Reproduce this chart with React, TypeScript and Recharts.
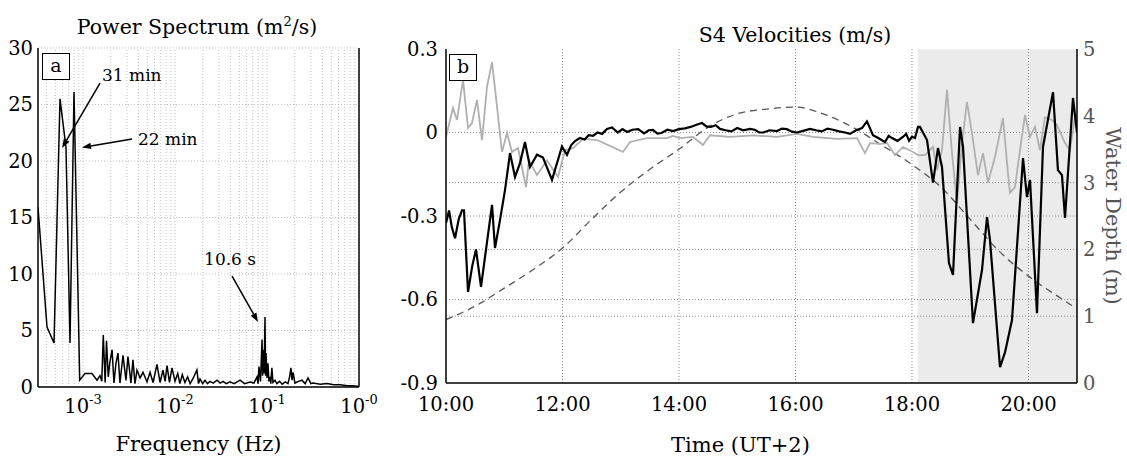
import {
  LineChart, Line, XAxis, YAxis, CartesianGrid, ReferenceLine, ReferenceArea, Label,
} from 'recharts';

const FONT = '"DejaVu Serif", serif';

// (a) power spectrum, frequency in Hz and power in m^2/s
const freqHz = [
  3.24e-4, 4.06e-4, 4.84e-4, 5.62e-4, 6.53e-4, 7.22e-4, 7.98e-4, 9.2e-4, 1.05e-3, 1.25e-3,
  1.42e-3, 1.53e-3, 1.6e-3, 1.66e-3, 1.74e-3, 1.8e-3, 1.88e-3, 1.96e-3, 2.07e-3, 2.17e-3,
  2.28e-3, 2.4e-3, 2.52e-3, 2.72e-3, 2.93e-3, 3.08e-3, 3.32e-3, 3.49e-3, 3.67e-3, 3.86e-3,
  4.17e-3, 4.49e-3, 4.96e-3, 5.35e-3, 5.77e-3, 6.37e-3, 6.87e-3, 7.41e-3, 7.8e-3, 8.19e-3,
  8.7e-3, 9.27e-3, 1.0e-2, 1.07e-2, 1.13e-2, 1.2e-2, 1.28e-2, 1.37e-2, 1.46e-2, 1.58e-2,
  1.73e-2, 1.8e-2, 1.87e-2, 2.0e-2, 2.12e-2, 2.25e-2, 2.4e-2, 2.6e-2, 2.86e-2, 3.1e-2,
  3.33e-2, 3.6e-2, 3.96e-2, 4.4e-2, 5.09e-2, 5.7e-2, 6.54e-2, 7.2e-2, 7.78e-2, 8.0e-2,
  8.18e-2, 8.5e-2, 8.83e-2, 8.95e-2, 9.05e-2, 9.3e-2, 9.51e-2, 9.65e-2, 9.75e-2, 0.1,
  0.1025, 0.105, 0.108, 0.11, 0.113, 0.116, 0.122, 0.128, 0.137, 0.146,
  0.158, 0.169, 0.176, 0.182, 0.187, 0.192, 0.201, 0.22, 0.24, 0.26,
  0.279, 0.3, 0.316, 0.38, 0.449, 0.53, 0.621, 0.75, 0.861, 1.0,
];
const power = [
  15.9, 5.3, 3.9, 25.5, 21.2, 3.9, 26.1, 0.6, 1.2, 1.2,
  0.6, 1.0, 0.5, 4.6, 0.4, 4.1, 0.9, 2.2, 3.3, 0.35,
  2.1, 3.0, 0.35, 2.8, 0.6, 2.7, 0.35, 2.4, 0.3, 1.5,
  0.8, 1.3, 0.45, 1.3, 0.4, 2.0, 0.4, 1.5, 0.5, 1.9,
  0.4, 1.7, 0.5, 1.2, 0.3, 1.1, 0.4, 0.9, 0.3, 0.8,
  1.5, 0.3, 0.7, 0.3, 0.6, 0.3, 0.5, 0.35, 0.6, 0.35,
  0.5, 0.3, 0.45, 0.3, 0.6, 0.3, 0.45, 0.35, 0.9, 0.3,
  1.8, 0.5, 4.2, 1.0, 3.3, 1.2, 6.2, 1.0, 3.0, 0.8,
  2.1, 0.5, 0.9, 0.3, 1.7, 0.4, 0.6, 0.3, 0.5, 0.25,
  0.45, 0.3, 0.9, 1.7, 0.6, 1.3, 0.35, 0.5, 0.6, 0.3,
  0.8, 0.3, 0.35, 0.25, 0.3, 0.2, 0.2, 0.12, 0.1, 0.05,
];
const freqTicks = [1e-3, 1e-2, 1e-1, 1];
const powerTicks = [0, 5, 10, 15, 20, 25, 30];

// (b) S4 velocities (m/s) and water depth (m), time in hours UT+2
const blackTime = [
  10.0, 10.03, 10.052, 10.1, 10.155, 10.22, 10.275, 10.309, 10.378, 10.45, 10.515, 10.601,
  10.7, 10.79, 10.841, 10.927, 11.013, 11.099, 11.185, 11.27, 11.356, 11.442, 11.562, 11.665,
  11.82, 11.991, 12.077, 12.15, 12.22, 12.3, 12.38, 12.45, 12.524, 12.6, 12.68, 12.764,
  12.85, 12.95, 13.03, 13.107, 13.2, 13.3, 13.4, 13.48, 13.554, 13.63, 13.7, 13.8,
  13.897, 14.0, 14.1, 14.2, 14.3, 14.395, 14.47, 14.55, 14.63, 14.704, 14.8, 14.9,
  15.0, 15.1, 15.219, 15.3, 15.38, 15.45, 15.55, 15.682, 15.77, 15.85, 15.94, 16.026,
  16.13, 16.249, 16.35, 16.45, 16.55, 16.644, 16.75, 16.85, 16.936, 17.04, 17.142, 17.227,
  17.28, 17.33, 17.42, 17.536, 17.6, 17.657, 17.75, 17.845, 17.9, 17.95, 18.0, 18.052,
  18.103, 18.137, 18.258, 18.361, 18.446, 18.515, 18.635, 18.704, 18.825, 18.876, 19.047, 19.202,
  19.288, 19.339, 19.511, 19.597, 19.717, 19.906, 19.974, 20.026, 20.146, 20.249, 20.421, 20.506,
  20.575, 20.627, 20.764, 20.833,
];
const blackVel = [
  -0.325, -0.3, -0.28, -0.34, -0.38, -0.31, -0.28, -0.28, -0.573, -0.48, -0.42, -0.555,
  -0.4, -0.26, -0.415, -0.315, -0.207, -0.074, -0.16, -0.11, -0.034, -0.124, -0.08, -0.09,
  -0.17, -0.05, -0.08, -0.045, -0.03, -0.02, -0.025, -0.01, -0.012, 0.0, -0.005, 0.013,
  0.018, 0.0, 0.012, 0.002, 0.01, 0.012, -0.003, 0.008, 0.009, -0.004, -0.002, 0.01,
  0.005, 0.012, 0.015, 0.02, 0.028, 0.034, 0.022, 0.02, 0.026, 0.013, 0.008, 0.004,
  0.016, 0.008, 0.013, 0.01, 0.0, 0.0, 0.008, 0.005, 0.014, 0.012, 0.003, 0.0,
  0.006, 0.013, 0.008, 0.004, 0.014, 0.01, 0.004, 0.0, -0.005, 0.008, 0.016, 0.04,
  0.015, -0.01, -0.02, -0.034, -0.012, -0.02, -0.03, -0.016, -0.005, -0.03, -0.015, -0.02,
  0.02, 0.02, -0.027, -0.18, -0.056, -0.124, -0.469, -0.512, 0.02, -0.052, -0.685, -0.494,
  -0.304, -0.386, -0.843, -0.79, -0.674, -0.092, -0.232, -0.17, -0.649, -0.052, 0.145, -0.135,
  -0.153, -0.307, 0.124, 0.0,
];
const grayTime = [
  10.0, 10.12, 10.189, 10.292, 10.378, 10.446, 10.532, 10.618, 10.704, 10.79, 10.876, 10.961,
  11.047, 11.133, 11.236, 11.373, 11.425, 11.562, 11.734, 11.923, 12.043, 12.18, 12.352, 12.592,
  12.815, 13.039, 13.159, 13.451, 13.794, 13.897, 14.017, 14.24, 14.412, 14.532, 14.876, 15.27,
  15.682, 16.026, 16.3, 16.712, 17.056, 17.193, 17.279, 17.451, 17.571, 17.708, 17.845, 18.017,
  18.103, 18.223, 18.361, 18.429, 18.515, 18.601, 18.687, 18.773, 18.858, 18.944, 19.03, 19.133,
  19.219, 19.305, 19.425, 19.562, 19.648, 19.682, 19.768, 19.854, 19.94, 20.026, 20.112, 20.197,
  20.283, 20.403, 20.489, 20.627, 20.712, 20.798, 20.833,
];
const grayVel = [
  -0.016, 0.088, 0.045, 0.189, 0.016, 0.034, 0.117, -0.027, 0.164, 0.253, 0.092, -0.07,
  -0.002, -0.07, -0.056, -0.196, -0.1, -0.153, -0.1, -0.16, -0.063, -0.056, -0.023, -0.027,
  -0.048, -0.07, -0.034, -0.02, -0.02, -0.012, -0.02, -0.016, -0.045, -0.01, -0.016, -0.01,
  -0.016, -0.005, -0.016, -0.023, -0.02, -0.074, -0.038, -0.041, -0.038, -0.081, -0.052, -0.07,
  -0.081, -0.081, -0.052, -0.135, -0.063, 0.153, -0.074, -0.253, -0.038, 0.11, -0.002, -0.153,
  -0.074, -0.18, -0.088, 0.052, -0.146, -0.217, -0.196, -0.063, 0.063, -0.016, 0.02, -0.063,
  0.055, 0.045, 0.027, -0.038, -0.063, 0.055, 0.02,
];
const depthTime = [
  10, 10.5, 11, 11.5, 12, 12.5, 13, 13.5, 14, 14.5, 15, 15.5,
  16, 16.5, 17, 17.5, 18, 18.5, 19, 19.5, 20, 20.5, 20.8,
];
const depthM = [
  0.95, 1.15, 1.42, 1.7, 2.02, 2.45, 2.86, 3.2, 3.5, 3.83, 4.03, 4.1,
  4.13, 4.02, 3.82, 3.55, 3.27, 2.93, 2.45, 1.97, 1.6, 1.3, 1.13,
];
const timeTicks = [10, 12, 14, 16, 18, 20];
const velTicks = [-0.9, -0.6, -0.3, 0, 0.3];
const depthTicks = [0, 1, 2, 3, 4, 5];
const shadeStart = 18.1;
const timeEnd = 20.833;

const spectrum = freqHz.map((f, i) => ({ f, p: power[i] }));
const blackData = blackTime.map((t, i) => ({ t, v: blackVel[i] }));
const grayData = grayTime.map((t, i) => ({ t, v: grayVel[i] }));
const depthData = depthTime.map((t, i) => ({ t, d: depthM[i] }));

// log grid lines: 1..9 x each decade inside the axis range
const logGrid: number[] = [];
[-4, -3, -2, -1].forEach((e) => {
  for (let m = 1; m <= 9; m += 1) {
    const v = m * 10 ** e;
    if (v > 3.3e-4 && v < 1) logGrid.push(v);
  }
});

const notes = [
  { text: '31 min', from: { x: 1.53e-3, y: 26.9 }, to: { x: 5.92e-4, y: 21.15 }, dx: 2, dy: -2, anchor: 'start' },
  { text: '22 min', from: { x: 3.41e-3, y: 21.95 }, to: { x: 9.75e-4, y: 21.2 }, dx: 6, dy: 6, anchor: 'start' },
  { text: '10.6 s', from: { x: 4.17e-2, y: 9.82 }, to: { x: 7.98e-2, y: 5.75 }, dx: -2, dy: -11, anchor: 'middle' },
];

const tickStyle = { fontFamily: FONT, fontSize: 19.5, fill: '#000' };
const labelStyle = { fontFamily: FONT, fontSize: 21, fill: '#000' };

const arrowShape = (text: string, dx: number, dy: number, anchor: string) => (p: any) => {
  const { x1, y1, x2, y2 } = p;
  const a = Math.atan2(y2 - y1, x2 - x1);
  const L = 9;
  const W = 3.2;
  const bx = x2 - L * Math.cos(a);
  const by = y2 - L * Math.sin(a);
  const pts = `${x2},${y2} ${bx - W * Math.sin(a)},${by + W * Math.cos(a)} ${bx + W * Math.sin(a)},${by - W * Math.cos(a)}`;
  return (
    <g>
      <line x1={x1} y1={y1} x2={bx} y2={by} stroke="#000" strokeWidth={1.5} />
      <polygon points={pts} fill="#000" />
      <text x={x1 + dx} y={y1 + dy} textAnchor={anchor} fontFamily={FONT} fontSize={17} fill="#000">
        {text}
      </text>
    </g>
  );
};

function LogTick(props: any) {
  const { x, y, payload } = props;
  const e = Math.round(Math.log10(payload.value));
  return (
    <text x={x} y={y} textAnchor="middle" fontFamily={FONT} fontSize={19.5} fill="#000">
      <tspan dy={26}>10</tspan>
      <tspan dy={-9} fontSize={13}>{e === 0 ? '-0' : String(e)}</tspan>
    </text>
  );
}

function SpectrumChart() {
  return (
    <LineChart width={380} height={456} margin={{ top: 48, right: 0, bottom: 5, left: 0 }}>
      <CartesianGrid vertical={false} stroke="#c4c4c4" strokeDasharray="1 2" />
      {logGrid.map((v) => (
        <ReferenceLine key={v} x={v} stroke="#c4c4c4" strokeDasharray="1 2" />
      ))}
      <XAxis
        dataKey="f" type="number" scale="log" domain={[3.24e-4, 1]} allowDataOverflow
        ticks={freqTicks} tick={<LogTick />} tickLine={false} tickSize={0} tickMargin={0}
        axisLine={{ stroke: '#000', strokeWidth: 1.5 }} height={64}
      >
        <Label value="Frequency (Hz)" position="insideBottom" offset={0} style={labelStyle} />
      </XAxis>
      <XAxis xAxisId="top" orientation="top" type="number" scale="log" domain={[3.24e-4, 1]} tick={false} tickLine={false} height={0} axisLine={{ stroke: '#000', strokeWidth: 1.5 }} />
      <YAxis
        type="number" domain={[0, 30]} ticks={powerTicks} width={38} tickLine={false} tickSize={0} tickMargin={5}
        tick={tickStyle} axisLine={{ stroke: '#000', strokeWidth: 1.5 }}
      />
      <YAxis yAxisId="r" orientation="right" width={21} tick={false} tickLine={false} axisLine={{ stroke: '#000', strokeWidth: 1.5 }} />
      <Line data={spectrum} dataKey="p" type="linear" stroke="#000" strokeWidth={1.5} dot={false} activeDot={false} isAnimationActive={false} />
      {notes.map((n) => (
        <ReferenceLine key={n.text} segment={[n.from, n.to]} ifOverflow="visible" shape={arrowShape(n.text, n.dx, n.dy, n.anchor)} />
      ))}
    </LineChart>
  );
}

function VelocityChart() {
  return (
    <LineChart width={747} height={456} margin={{ top: 49, right: 0, bottom: 4, left: 0 }}>
      <ReferenceArea x1={shadeStart} x2={timeEnd} yAxisId="v" fill="#ebebeb" fillOpacity={1} stroke="none" ifOverflow="hidden" />
      {timeTicks.slice(1).map((t) => (
        <ReferenceLine key={`t${t}`} x={t} yAxisId="v" stroke="#8a8a8a" strokeDasharray="1 2" />
      ))}
      {[-0.6, -0.3, 0].map((v) => (
        <ReferenceLine key={`v${v}`} y={v} yAxisId="v" stroke="#8a8a8a" strokeDasharray="1 2" />
      ))}
      {[1, 2, 3].map((d) => (
        <ReferenceLine key={`d${d}`} y={d} yAxisId="d" stroke="#8a8a8a" strokeDasharray="1 2" />
      ))}
      <XAxis
        dataKey="t" type="number" domain={[10, timeEnd]} allowDataOverflow ticks={timeTicks}
        tickFormatter={(h) => `${h}:00`} tick={tickStyle} tickLine={false} tickSize={0} tickMargin={14}
        axisLine={{ stroke: '#000', strokeWidth: 1.5 }} height={69}
      >
        <Label value="Time (UT+2)" position="insideBottom" offset={0} dx={-21} style={labelStyle} />
      </XAxis>
      <XAxis xAxisId="top" orientation="top" type="number" domain={[10, timeEnd]} tick={false} tickLine={false} height={0} axisLine={{ stroke: '#000', strokeWidth: 1.5 }} />
      <YAxis
        yAxisId="v" type="number" domain={[-0.9, 0.3]} ticks={velTicks} width={66} tickLine={false} tickSize={0} tickMargin={8}
        tickFormatter={(v) => (v === 0 ? '0' : v.toFixed(1))} tick={tickStyle} axisLine={{ stroke: '#000', strokeWidth: 1.5 }}
      />
      <YAxis
        yAxisId="d" orientation="right" type="number" domain={[0, 5]} ticks={depthTicks} width={50} tickLine={false} tickSize={0} tickMargin={6}
        tick={{ ...tickStyle, fill: '#555' }} axisLine={{ stroke: '#000', strokeWidth: 1.5 }}
      >
        <Label value="Water Depth (m)" angle={90} position="center" dx={11} style={{ ...labelStyle, fill: '#555' }} />
      </YAxis>
      <Line yAxisId="d" data={depthData} dataKey="d" type="monotone" stroke="#555" strokeWidth={1.3} strokeDasharray="7 5" dot={false} activeDot={false} isAnimationActive={false} />
      <Line yAxisId="v" data={grayData} dataKey="v" type="linear" stroke="#b0b0b0" strokeWidth={1.8} dot={false} activeDot={false} isAnimationActive={false} />
      <Line yAxisId="v" data={blackData} dataKey="v" type="linear" stroke="#000" strokeWidth={2.2} dot={false} activeDot={false} isAnimationActive={false} />
    </LineChart>
  );
}

const boxStyle = {
  position: 'absolute' as const, width: 26, height: 25, border: '1.5px solid #000', background: '#fff',
  fontFamily: FONT, fontSize: 19, lineHeight: '23px', textAlign: 'center' as const,
};

export default function App() {
  return (
    <div style={{ position: 'absolute', left: 0, top: 0, width: 1127, height: 456, background: '#fff', overflow: 'hidden' }}>
      <div style={{ position: 'absolute', left: 0, top: 0 }}>
        <SpectrumChart />
      </div>
      <div style={{ position: 'absolute', left: 380, top: 0 }}>
        <VelocityChart />
      </div>
      <svg width={1127} height={456} style={{ position: 'absolute', left: 0, top: 0, pointerEvents: 'none' }}>
        <text x={197} y={34} textAnchor="middle" fontFamily={FONT} fontSize={20.5} fill="#000">
          Power Spectrum (m<tspan dy={-8} fontSize={13}>2</tspan><tspan dy={8}>/s)</tspan>
        </text>
        <text x={795} y={42} textAnchor="middle" fontFamily={FONT} fontSize={20.5} fill="#000">
          S4 Velocities (m/s)
        </text>
      </svg>
      <div style={{ ...boxStyle, left: 42, top: 53 }}>a</div>
      <div style={{ ...boxStyle, left: 449, top: 54 }}>b</div>
    </div>
  );
}
